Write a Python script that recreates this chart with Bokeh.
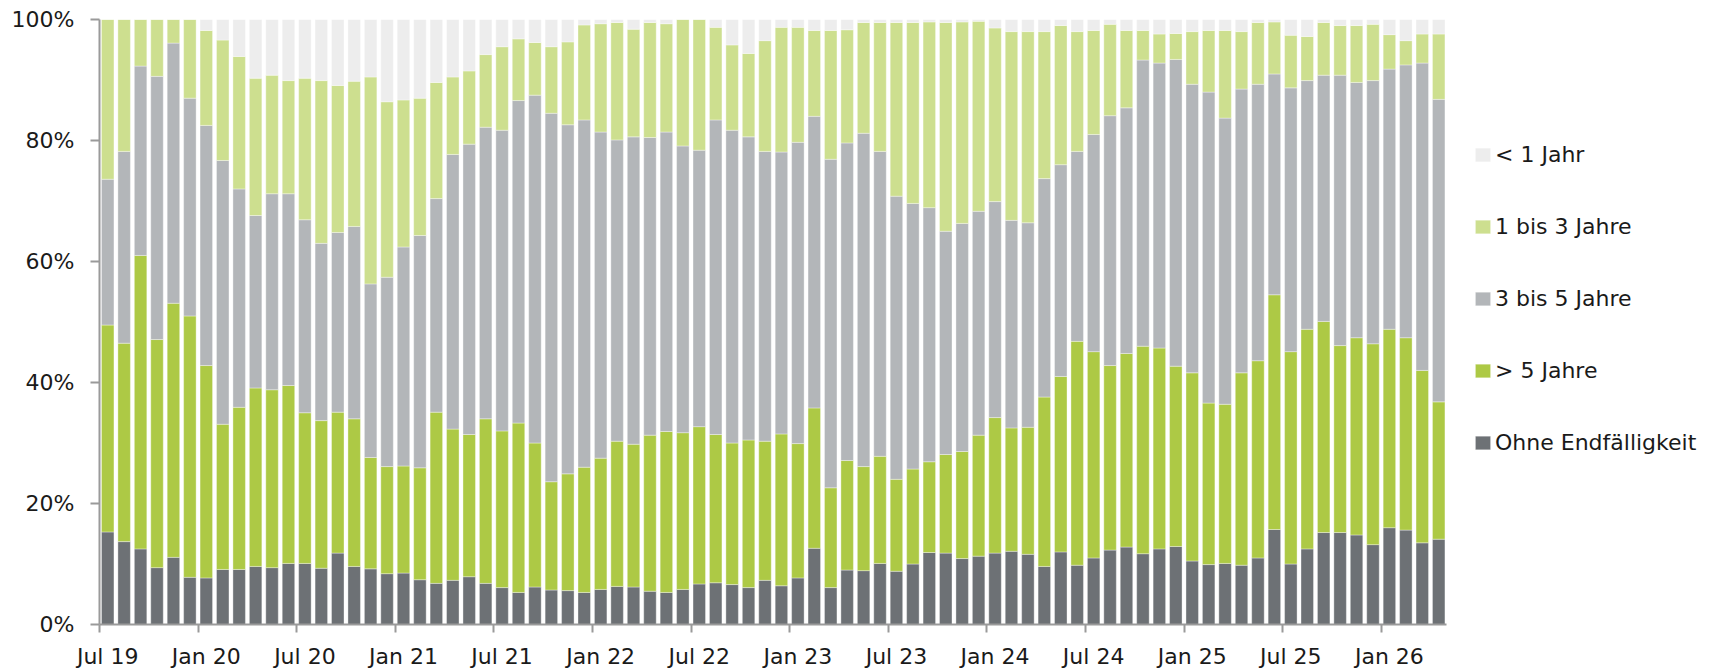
from bokeh.plotting import figure
from bokeh.models import ColumnDataSource, FixedTicker, Legend, LegendItem, Range1d
from bokeh.embed import file_html
from bokeh.resources import INLINE

# Months Jul 2019 .. Apr 2026 (82 monthly bars)
months = [f"{y}-{m:02d}" for y in range(2019, 2027) for m in range(1, 13)]
months = months[months.index("2019-07"):months.index("2026-04") + 1]

tick_labels = ["Jul 19", "Jan 20", "Jul 20", "Jan 21", "Jul 21", "Jan 22", "Jul 22",
               "Jan 23", "Jul 23", "Jan 24", "Jul 24", "Jan 25", "Jul 25", "Jan 26"]
tick_months = ["2019-07", "2020-01", "2020-07", "2021-01", "2021-07", "2022-01", "2022-07",
               "2023-01", "2023-07", "2024-01", "2024-07", "2025-01", "2025-07", "2026-01"]

# shares in percent
ohne = [15.3, 13.7, 12.5, 9.4, 11.1, 7.8, 7.7, 9.1, 9.1, 9.6,
        9.4, 10.1, 10.1, 9.3, 11.8, 9.6, 9.2, 8.4, 8.5, 7.4,
        6.8, 7.3, 7.9, 6.8, 6.1, 5.3, 6.2, 5.7, 5.6, 5.3,
        5.8, 6.3, 6.2, 5.5, 5.3, 5.8, 6.7, 6.9, 6.6, 6.1,
        7.3, 6.4, 7.7, 12.6, 6.1, 9.0, 8.9, 10.1, 8.8, 10.0,
        11.9, 11.8, 10.9, 11.3, 11.8, 12.1, 11.6, 9.6, 12.0, 9.8,
        11.0, 12.3, 12.8, 11.7, 12.5, 12.9, 10.5, 9.9, 10.1, 9.8,
        11.0, 15.7, 10.0, 12.5, 15.2, 15.2, 14.8, 13.2, 16.0, 15.6,
        13.5, 14.1]
gt5 = [34.2, 32.8, 48.5, 37.7, 42.0, 43.2, 35.1, 24.0, 26.8, 29.5,
       29.4, 29.4, 24.9, 24.4, 23.3, 24.4, 18.4, 17.7, 17.7, 18.5,
       28.3, 25.0, 23.5, 27.2, 25.9, 28.0, 23.8, 17.9, 19.3, 20.7,
       21.7, 24.0, 23.6, 25.8, 26.6, 25.9, 26.0, 24.5, 23.4, 24.4,
       23.0, 25.1, 22.2, 23.2, 16.5, 18.1, 17.2, 17.7, 15.2, 15.7,
       15.0, 16.3, 17.7, 20.0, 22.4, 20.4, 21.0, 28.0, 29.0, 37.0,
       34.1, 30.5, 32.0, 34.3, 33.2, 29.8, 31.1, 26.7, 26.3, 31.8,
       32.6, 38.8, 35.1, 36.3, 34.9, 30.9, 32.6, 33.2, 32.8, 31.8,
       28.5, 22.7]
y3to5 = [24.1, 31.7, 31.3, 43.5, 43.0, 36.0, 39.7, 43.6, 36.1, 28.5,
         32.4, 31.7, 31.9, 29.3, 29.7, 31.8, 28.7, 31.3, 36.2, 38.4,
         35.3, 45.4, 48.0, 48.2, 49.7, 53.3, 57.5, 60.9, 57.7, 57.4,
         53.9, 49.8, 50.8, 49.2, 49.5, 47.4, 45.7, 52.0, 51.7, 50.1,
         47.9, 46.6, 49.8, 48.2, 54.3, 52.5, 55.1, 50.4, 46.8, 43.9,
         42.0, 36.9, 37.7, 37.0, 35.7, 34.3, 33.8, 36.1, 35.0, 31.4,
         35.9, 41.3, 40.6, 47.3, 47.1, 50.7, 47.7, 51.4, 47.3, 46.9,
         45.7, 36.5, 43.6, 41.1, 40.7, 44.7, 42.2, 43.5, 43.0, 45.1,
         50.8, 50.0]
y1to3 = [26.4, 21.8, 7.7, 9.4, 3.9, 13.0, 15.7, 19.9, 21.9, 22.7,
         19.6, 18.7, 23.4, 26.9, 24.3, 24.0, 34.2, 29.0, 24.3, 22.7,
         19.2, 12.8, 12.1, 12.0, 13.8, 10.2, 8.7, 11.0, 13.7, 15.7,
         17.9, 19.4, 17.8, 19.0, 17.9, 20.9, 21.6, 15.3, 14.1, 13.8,
         18.3, 20.6, 19.0, 14.2, 21.3, 18.7, 18.3, 21.3, 28.7, 29.9,
         30.7, 34.5, 33.3, 31.4, 28.7, 31.2, 31.6, 24.3, 23.0, 19.8,
         17.2, 15.1, 12.8, 4.9, 4.8, 4.3, 8.7, 10.2, 14.5, 9.5,
         10.2, 8.6, 8.7, 7.3, 8.7, 8.2, 9.4, 9.3, 5.7, 4.0,
         4.8, 10.8]
lt1 = [0.0, 0.0, 0.0, 0.0, 0.0, 0.0, 1.8, 3.4, 6.1, 9.7,
       9.2, 10.1, 9.7, 10.1, 10.9, 10.2, 9.5, 13.6, 13.3, 13.0,
       10.4, 9.5, 8.5, 5.8, 4.5, 3.2, 3.8, 4.5, 3.7, 0.9,
       0.7, 0.5, 1.6, 0.5, 0.7, 0.0, 0.0, 1.3, 4.2, 5.6,
       3.5, 1.3, 1.3, 1.8, 1.8, 1.7, 0.5, 0.5, 0.5, 0.5,
       0.4, 0.5, 0.4, 0.3, 1.4, 2.0, 2.0, 2.0, 1.0, 2.0,
       1.8, 0.8, 1.8, 1.8, 2.4, 2.3, 2.0, 1.8, 1.8, 2.0,
       0.5, 0.4, 2.6, 2.8, 0.5, 1.0, 1.0, 0.8, 2.5, 3.5,
       2.4, 2.4]

series_keys = ["ohne", "gt5", "y3to5", "y1to3", "lt1"]
series_names = ["Ohne Endfälligkeit", "> 5 Jahre", "3 bis 5 Jahre", "1 bis 3 Jahre", "< 1 Jahr"]
colors = ["#6d7175", "#adc945", "#b3b6b9", "#cddf8f", "#ededed"]

FONT = "DejaVu Sans"
FS = "22px"
TXT = "#1a1a1a"
AXC = "#9a9a9a"

W, H = 1718, 671
LEFT = 99
MONTH_PX = 16.432          # horizontal pixels per month in the reference
n = len(months)
x_end = -0.5 + (W - LEFT) / MONTH_PX   # frame extends under the legend area

x = list(range(n))
source = ColumnDataSource(dict(x=x, month=months, ohne=ohne, gt5=gt5,
                               y3to5=y3to5, y1to3=y1to3, lt1=lt1))

p = figure(width=W, height=H, output_backend="svg", toolbar_location=None,
           x_range=Range1d(-0.5, x_end), y_range=Range1d(0, 100),
           min_border_left=LEFT, min_border_right=0, min_border_top=19,
           min_border_bottom=45)
p.outline_line_color = None
p.grid.visible = False
p.background_fill_color = "white"

renderers = p.vbar_stack(series_keys, x="x", width=0.76, source=source,
                         fill_color=colors, line_color="white", line_width=0.6,
                         line_alpha=0.6)

# y axis
ya = p.yaxis[0]
ya.ticker = FixedTicker(ticks=[0, 20, 40, 60, 80, 100])
ya.major_label_overrides = {v: f"{v}%" for v in [0, 20, 40, 60, 80, 100]}
ya.minor_tick_line_color = None
ya.major_tick_in = 0
ya.major_tick_out = 9
ya.major_label_standoff = 16
ya.axis_line_color = AXC
ya.axis_line_width = 2
ya.major_tick_line_color = AXC
ya.major_tick_line_width = 2
ya.major_label_text_font = FONT
ya.major_label_text_font_size = FS
ya.major_label_text_color = TXT

# x axis: labels centred on the bars, tick marks (minor) at month boundaries
xa = p.xaxis[0]
xa.bounds = (-0.5, n - 0.5)
xa.ticker = FixedTicker(ticks=[months.index(m) for m in tick_months],
                        minor_ticks=[months.index(m) - 0.5 for m in tick_months])
xa.major_label_overrides = {months.index(m): lab for m, lab in zip(tick_months, tick_labels)}
xa.major_tick_line_color = None
xa.major_tick_in = 0
xa.major_tick_out = 8
xa.minor_tick_in = 0
xa.minor_tick_out = 8
xa.minor_tick_line_color = AXC
xa.minor_tick_line_width = 2
xa.axis_line_color = AXC
xa.axis_line_width = 2
xa.major_label_standoff = 11
xa.major_label_text_font = FONT
xa.major_label_text_font_size = FS
xa.major_label_text_color = TXT

items = [LegendItem(label=series_names[i], renderers=[renderers[i]]) for i in [4, 3, 2, 1, 0]]
legend = Legend(items=items, location=(1374, 167), orientation="vertical",
                margin=0, padding=0, spacing=42, glyph_width=19, glyph_height=17,
                label_standoff=3, label_height=30,
                label_text_font=FONT, label_text_font_size=FS, label_text_color=TXT,
                background_fill_alpha=0, border_line_color=None)
p.add_layout(legend, "center")

open("out.html", "w").write(file_html(p, INLINE))
